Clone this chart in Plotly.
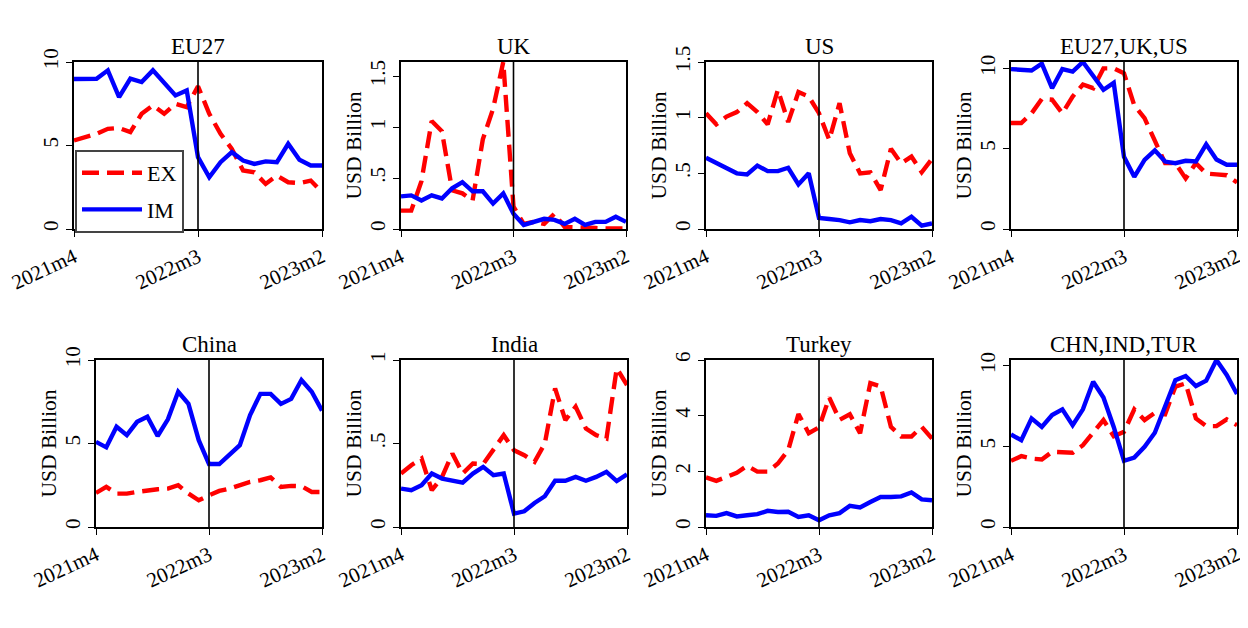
import plotly.graph_objects as go

months = ["2021m4", "2021m5", "2021m6", "2021m7", "2021m8", "2021m9", "2021m10", "2021m11",
          "2021m12", "2022m1", "2022m2", "2022m3", "2022m4", "2022m5", "2022m6", "2022m7",
          "2022m8", "2022m9", "2022m10", "2022m11", "2022m12", "2023m1", "2023m2"]
xtick_labels = ["2021m4", "2022m3", "2023m2"]
break_month = "2022m3"

titles = ["EU27", "UK", "US", "EU27,UK,US", "China", "India", "Turkey", "CHN,IND,TUR"]

eu27_ex = [5.3, 5.5, 5.7, 6.0, 6.05, 5.8, 6.9, 7.4, 6.9, 7.5, 7.3, 8.55, 6.9, 5.7, 4.8, 3.5, 3.4, 2.7, 3.2, 2.8, 2.75, 2.9, 2.2]
eu27_im = [8.98, 9.0, 9.0, 9.5, 7.9, 9.0, 8.8, 9.5, 8.7, 8.0, 8.3, 4.3, 3.1, 4.0, 4.6, 4.1, 3.9, 4.05, 4.0, 5.1, 4.15, 3.8, 3.8]
uk_ex = [0.18, 0.18, 0.47, 1.06, 0.96, 0.38, 0.35, 0.28, 0.88, 1.18, 1.64, 0.22, 0.05, 0.07, 0.05, 0.15, 0.02, 0.02, 0.01, 0.01, 0.005, 0.005, 0.005]
uk_im = [0.32, 0.33, 0.28, 0.33, 0.30, 0.40, 0.46, 0.37, 0.37, 0.25, 0.35, 0.15, 0.04, 0.07, 0.10, 0.09, 0.05, 0.10, 0.04, 0.07, 0.07, 0.12, 0.07]
us_ex = [1.04, 0.94, 1.01, 1.05, 1.13, 1.05, 0.94, 1.25, 0.96, 1.23, 1.19, 1.04, 0.80, 1.13, 0.68, 0.50, 0.51, 0.35, 0.72, 0.59, 0.65, 0.51, 0.63]
us_im = [0.64, 0.59, 0.54, 0.50, 0.49, 0.57, 0.52, 0.52, 0.55, 0.40, 0.50, 0.10, 0.09, 0.08, 0.06, 0.08, 0.07, 0.09, 0.08, 0.05, 0.11, 0.03, 0.05]
west_ex = [6.6, 6.6, 7.2, 8.1, 8.05, 7.2, 8.25, 9.0, 8.77, 10.0, 10.0, 9.7, 7.7, 6.9, 5.5, 4.1, 4.1, 3.15, 4.1, 3.45, 3.4, 3.35, 2.9]
west_im = [9.96, 9.9, 9.87, 10.3, 8.77, 9.96, 9.8, 10.4, 9.5, 8.67, 9.1, 4.5, 3.25, 4.3, 4.9, 4.2, 4.1, 4.25, 4.2, 5.27, 4.33, 4.0, 4.0]
china_ex = [2.04, 2.4, 2.0, 2.0, 2.1, 2.2, 2.26, 2.3, 2.5, 2.0, 1.6, 1.9, 2.16, 2.3, 2.5, 2.7, 2.8, 2.97, 2.4, 2.46, 2.44, 2.1, 2.1]
china_im = [5.1, 4.77, 6.0, 5.5, 6.3, 6.6, 5.45, 6.45, 8.1, 7.37, 5.2, 3.77, 3.77, 4.3, 4.9, 6.7, 7.97, 7.97, 7.37, 7.67, 8.8, 8.1, 6.97]
india_ex = [0.32, 0.37, 0.41, 0.22, 0.30, 0.44, 0.32, 0.38, 0.377, 0.46, 0.55, 0.46, 0.43, 0.39, 0.50, 0.83, 0.64, 0.72, 0.59, 0.55, 0.53, 0.95, 0.85]
india_im = [0.23, 0.22, 0.25, 0.32, 0.29, 0.28, 0.265, 0.32, 0.36, 0.31, 0.32, 0.08, 0.094, 0.144, 0.184, 0.277, 0.277, 0.30, 0.277, 0.30, 0.33, 0.275, 0.315]
turkey_ex = [1.78, 1.66, 1.8, 1.95, 2.2, 1.99, 1.99, 2.28, 2.76, 4.06, 3.37, 3.58, 4.65, 3.85, 4.05, 3.37, 5.17, 5.05, 3.6, 3.25, 3.25, 3.6, 3.18]
turkey_im = [0.42, 0.40, 0.5, 0.38, 0.42, 0.46, 0.58, 0.54, 0.55, 0.36, 0.42, 0.24, 0.42, 0.5, 0.76, 0.70, 0.9, 1.08, 1.08, 1.1, 1.24, 0.99, 0.96]
east_ex = [4.1, 4.39, 4.24, 4.18, 4.66, 4.66, 4.6, 5.07, 5.84, 6.63, 5.63, 5.9, 7.29, 6.63, 7.08, 6.98, 8.7, 8.9, 6.73, 6.25, 6.25, 6.67, 6.31]
east_im = [5.73, 5.38, 6.73, 6.2, 6.94, 7.29, 6.31, 7.29, 9.0, 8.03, 6.2, 4.1, 4.3, 4.97, 5.84, 7.45, 9.1, 9.36, 8.74, 9.07, 10.35, 9.42, 8.24]

ex_series = [eu27_ex, uk_ex, us_ex, west_ex, china_ex, india_ex, turkey_ex, east_ex]
im_series = [eu27_im, uk_im, us_im, west_im, china_im, india_im, turkey_im, east_im]

ytick_vals = [[0, 5, 10], [0, 0.5, 1, 1.5], [0, 0.5, 1, 1.5], [0, 5, 10],
              [0, 5, 10], [0, 0.5, 1], [0, 2, 4, 6], [0, 5, 10]]
ytick_text = [["0", "5", "10"], ["0", ".5", "1", "1.5"], ["0", ".5", "1", "1.5"], ["0", "5", "10"],
              ["0", "5", "10"], ["0", ".5", "1"], ["0", "2", "4", "6"], ["0", "5", "10"]]
ytitle = "USD Billion"
show_ytitle = [False, True, True, True, True, True, True, True]

# The page body has an 8px margin; lay out in window pixels and shift into figure pixels.
OFF = 8
W, H = 1248 - OFF, 628 - OFF
# plot-area boxes in window pixels (left, right, top, bottom)
cols_top = [(74, 322), (401, 626), (706, 932), (1011, 1237)]
cols_bot = [(96, 322), (401, 627), (706, 932), (1011, 1237)]
rows = [(62, 229), (360, 527)]


def fx(px):
    return (px - OFF) / W


def fy(py):
    return 1 - (py - OFF) / H


FONT = "Liberation Serif"
fig = go.Figure()
annotations = []
shapes = []

for i in range(8):
    r = i // 4
    c = i % 4
    left, right = (cols_top if r == 0 else cols_bot)[c]
    top, bottom = rows[r]
    xd = [fx(left), fx(right)]
    yd = [fy(bottom), fy(top)]
    n = i + 1
    xa = "x" if n == 1 else f"x{n}"
    ya = "y" if n == 1 else f"y{n}"
    ymax = max(max(ytick_vals[i]), max(ex_series[i]), max(im_series[i]))

    fig.add_trace(go.Scatter(x=months, y=ex_series[i], mode="lines", name="EX",
                             line=dict(color="#ff0000", width=4.4, dash="17px,8px"),
                             xaxis=xa, yaxis=ya, showlegend=(i == 0), legendgroup="ex"))
    fig.add_trace(go.Scatter(x=months, y=im_series[i], mode="lines", name="IM",
                             line=dict(color="#0000ff", width=4.4),
                             xaxis=xa, yaxis=ya, showlegend=(i == 0), legendgroup="im"))

    axis_common = dict(showline=True, linecolor="black", linewidth=1.6, mirror=True,
                       ticks="outside", ticklen=6, tickwidth=1.4, tickcolor="black",
                       showgrid=False, zeroline=False, automargin=False,
                       tickfont=dict(family=FONT, size=21, color="black"))
    fig.layout[("xaxis" if n == 1 else f"xaxis{n}")] = dict(
        domain=xd, anchor=ya, type="category", range=[0, len(months) - 1],
        tickmode="array", tickvals=xtick_labels, ticktext=xtick_labels, tickangle=-25,
        **axis_common)
    fig.layout[("yaxis" if n == 1 else f"yaxis{n}")] = dict(
        domain=yd, anchor=xa, range=[0, ymax], tickmode="array",
        tickvals=ytick_vals[i], ticktext=ytick_text[i], tickangle=-90,
        **axis_common)

    shapes.append(dict(type="line", xref=xa, yref=f"{ya} domain", x0=break_month, x1=break_month,
                       y0=0, y1=1, line=dict(color="black", width=1.6)))
    annotations.append(dict(text=titles[i], xref="paper", yref="paper",
                            x=(xd[0] + xd[1]) / 2, y=yd[1], yshift=1,
                            xanchor="center", yanchor="bottom", showarrow=False,
                            font=dict(family=FONT, size=23, color="black")))
    if show_ytitle[i]:
        annotations.append(dict(text=ytitle, xref="paper", yref="paper",
                                x=fx(left - 48), y=(yd[0] + yd[1]) / 2, textangle=-90,
                                xanchor="center", yanchor="middle", showarrow=False,
                                font=dict(family=FONT, size=21.5, color="black")))

fig.update_layout(
    width=W, height=H, margin=dict(l=0, r=0, t=0, b=0, autoexpand=False),
    paper_bgcolor="white", plot_bgcolor="white",
    font=dict(family=FONT, size=21, color="black"),
    annotations=annotations, shapes=shapes,
    legend=dict(x=fx(75), y=fy(150), xanchor="left", yanchor="top",
                bgcolor="white", bordercolor="#444444", borderwidth=2,
                font=dict(family=FONT, size=22, color="black"),
                tracegroupgap=5, traceorder="grouped", itemwidth=60),
)

fig.write_html("out.html")
